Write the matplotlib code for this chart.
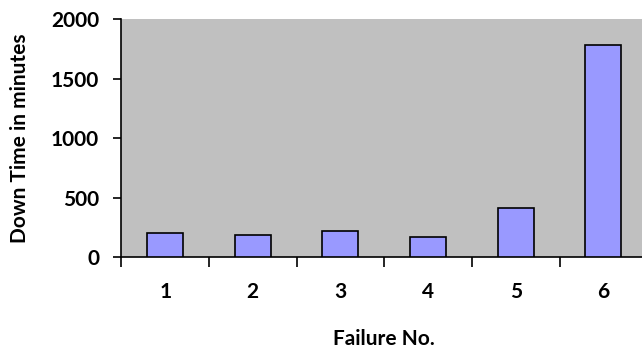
import matplotlib
matplotlib.use("Agg")
import matplotlib.pyplot as plt
import numpy as np

failures = ["1", "2", "3", "4", "5", "6"]
down_time = [208, 191, 226, 174, 416, 1783]

plt.rcParams['font.family'] = ['Lato', 'DejaVu Sans']
plt.rcParams['font.weight'] = 'bold'

fig = plt.figure(figsize=(6.42, 3.54), dpi=100)
ax = fig.add_axes([0.189, 0.2726, 0.819, 0.6734])
ax.set_facecolor('#C0C0C0')

x = np.arange(len(failures))
ax.bar(x, down_time, width=0.41, color='#9999FF', edgecolor='black', linewidth=1.2, zorder=3)

ax.set_xlim(-0.5, len(failures) - 0.5)
ax.set_ylim(0, 2000)
ax.set_yticks([0, 500, 1000, 1500, 2000])

# labels centred on bars, tick marks between categories
ax.set_xticks(x)
ax.set_xticklabels(failures)
ax.set_xticks(np.arange(len(failures)) - 0.5, minor=True)
ax.tick_params(axis='x', which='major', length=0, pad=18, labelsize=15)
ax.tick_params(axis='x', which='minor', length=7, width=1.2, direction='out')
ax.tick_params(axis='y', length=6, width=1.2, direction='out', pad=10, labelsize=15)

for s in ['top', 'right']:
    ax.spines[s].set_visible(False)
for s in ['left', 'bottom']:
    ax.spines[s].set_linewidth(1.2)

ax.set_xlabel('Failure No.', fontsize=15, fontweight='bold')
ax.xaxis.set_label_coords(0.5, -0.34)
ax.xaxis.label.set_va('center')
ax.set_ylabel('Down Time in minutes', fontsize=15, fontweight='bold')
ax.yaxis.set_label_coords(-0.193, 0.5)
ax.yaxis.label.set_va('center')

fig.savefig('out.png', dpi=100)
